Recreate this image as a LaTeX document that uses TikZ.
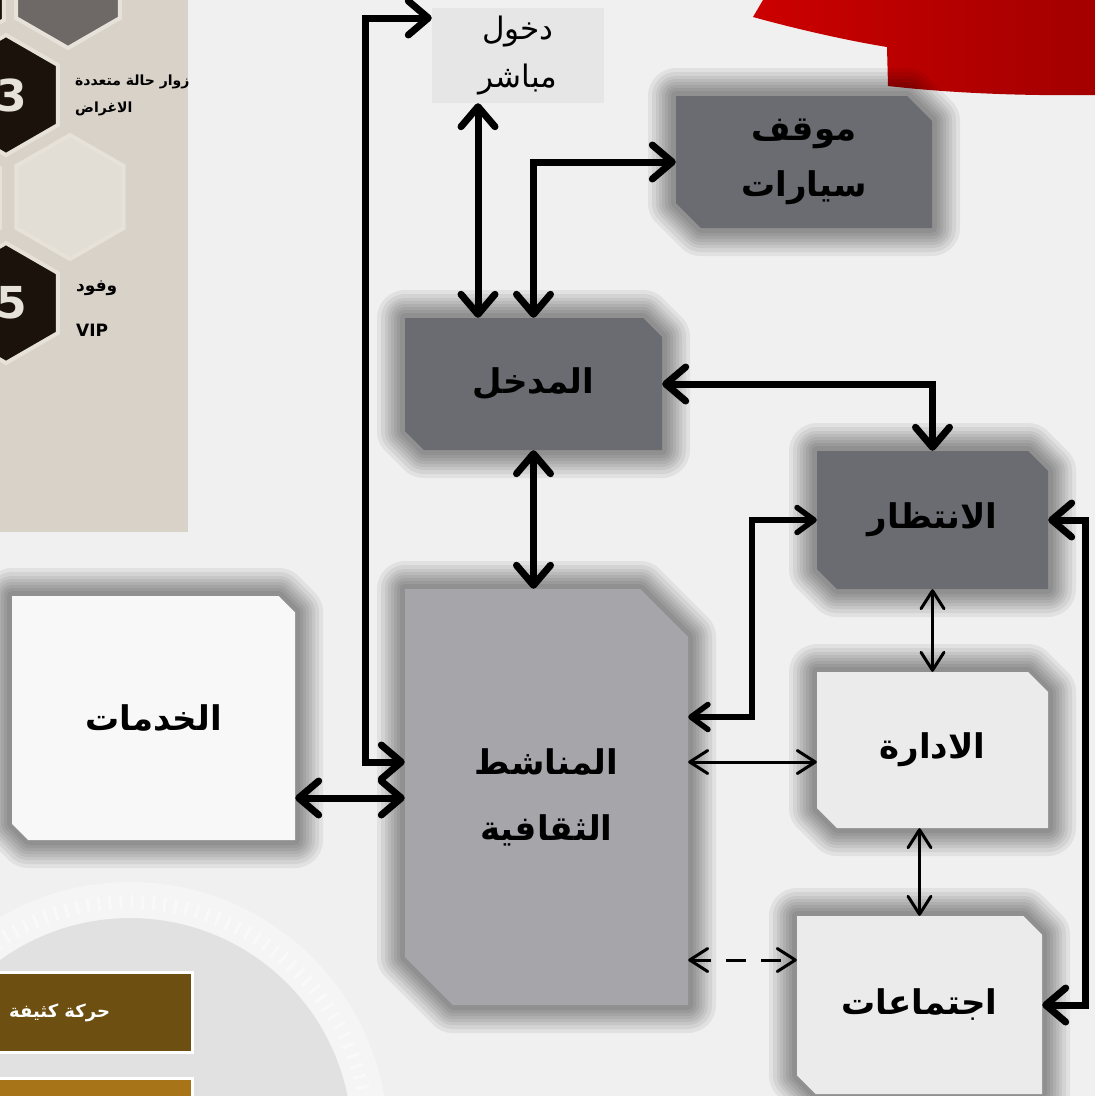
\documentclass[tikz,border=0pt]{standalone}
\usepackage{fontspec}
\usetikzlibrary{shapes.misc,shapes.geometric,arrows.meta}
\newfontfamily\arabicfont[Script=Arabic]{DejaVu Sans}
\newfontfamily\latinfont{DejaVu Sans}
\TeXXeTstate=1
\definecolor{paper}{HTML}{F0F0F0}
\definecolor{panelbeige}{HTML}{D8D2C8}
\definecolor{hexdark}{HTML}{1B130B}
\definecolor{hexgray}{HTML}{6E6866}
\definecolor{hexlight}{HTML}{E2DDD5}
\definecolor{hexrim}{HTML}{E6E1D9}
\definecolor{boxdark}{HTML}{6B6C71}
\definecolor{boxmid}{HTML}{A6A5AA}
\definecolor{boxlight}{HTML}{EBEBEB}
\definecolor{boxwhite}{HTML}{F8F8F8}
\definecolor{directbox}{HTML}{E6E6E6}
\definecolor{bannerred}{HTML}{CC0000}
\definecolor{bannerdark}{HTML}{A30000}
\definecolor{brownA}{HTML}{6E4F12}
\definecolor{brownB}{HTML}{A87418}
\newcommand{\rtl}[1]{\beginR #1\endR}
\tikzset{
  halo/.style={preaction={draw=black, draw opacity=0.06, line width=#1, line join=round}},
  room/.style={chamfered rectangle, chamfered rectangle corners={north east,south west},
    chamfered rectangle angle=45, chamfered rectangle xsep=22pt, inner sep=0pt,
    align=center, font=\arabicfont\bfseries\fontsize{34}{56}\selectfont,
    halo=56pt, halo=48pt, halo=40pt, halo=34pt, halo=28pt, halo=22pt, halo=16pt, halo=10pt},
  hexcell/.style={regular polygon, regular polygon sides=6, shape border rotate=30,
    inner sep=0pt, draw=hexrim, line width=4pt},
  bigarrow/.style={line width=7pt,
    {Straight Barb[length=20pt,width=34pt,round]}-{Straight Barb[length=20pt,width=34pt,round]}},
  midarrow/.style={line width=5.5pt,
    {Straight Barb[length=17pt,width=25pt,round]}-{Straight Barb[length=17pt,width=25pt,round]}},
  thinarrow/.style={line width=3pt,
    {Straight Barb[length=18pt,width=23pt,round]}-{Straight Barb[length=18pt,width=23pt,round]}},
}
\begin{document}
\begin{tikzpicture}[x=1pt, y=-1pt]
\useasboundingbox (0,0) rectangle (1095,1096);
\fill[paper] (0,0) rectangle (1095,1096);
% watermark
\fill[black, opacity=0.06] (130,1140) circle (222);
\draw[white, opacity=0.35, line width=36pt] (130,1140) circle (240);
\draw[white, opacity=0.4, line width=14pt, dash pattern=on 3pt off 8pt] (130,1140) circle (238);
% side panel
\fill[panelbeige] (0,0) rectangle (188,532);
\node[hexcell, fill=hexgray, minimum size=120pt] (hextop) at (68,-12) {};
\node[hexcell, fill=hexdark, minimum size=120pt] (hexleft) at (-48,-10) {};
\node[hexcell, fill=hexdark, minimum size=120pt] (hexfour) at (-52,198) {};
\node[hexcell, fill=hexlight, minimum size=124pt] (hexblank) at (70,197) {};
\node[hexcell, fill=hexdark, minimum size=120pt] (hexthree) at (6,95) {};
\node[hexcell, fill=hexdark, minimum size=120pt] (hexfive) at (6,303) {};
\node[text=hexrim, inner sep=0pt, font=\latinfont\bfseries\fontsize{44}{44}\selectfont]
  (three) at (12,95) {3};
\node[text=hexrim, inner sep=0pt, font=\latinfont\bfseries\fontsize{44}{44}\selectfont]
  (five) at (12,303) {5};
\node[align=left, anchor=west, inner sep=0pt, font=\arabicfont\bfseries\fontsize{14}{27}\selectfont]
  (visitors) at (75,95) {\rtl{زوار حالة متعددة}\\\rtl{الاغراض}};
\node[anchor=west, inner sep=0pt, font=\arabicfont\bfseries\fontsize{17}{17}\selectfont]
  (delegates) at (76,288) {\rtl{وفود}};
\node[anchor=west, inner sep=0pt, font=\latinfont\bfseries\fontsize{17}{17}\selectfont]
  (vip) at (76,330) {VIP};
% legend bars
\filldraw[fill=brownA, draw=white, line width=3pt] (-5,972) rectangle (192,1052);
\node[text=white, anchor=west, inner sep=0pt, font=\arabicfont\bfseries\fontsize{18}{18}\selectfont]
  (heavy) at (9,1013) {\rtl{حركة كثيفة}};
\filldraw[fill=brownB, draw=white, line width=3pt] (-5,1078) rectangle (192,1104);
% red banner
\shade[left color=bannerred, right color=bannerdark] (763,0) -- (753,17)
  .. controls (800,30) and (850,41) .. (887,47) -- (888,86)
  .. controls (950,93) and (1020,96) .. (1095,95) -- (1095,0) -- cycle;
% rooms
\node[fill=directbox, minimum width=172pt, minimum height=95pt, align=center, inner sep=0pt,
  font=\arabicfont\fontsize{31}{48}\selectfont] (direct) at (518,55.5)
  {\rtl{دخول}\\\rtl{مباشر}};
\node[room, fill=boxdark, minimum width=256pt, minimum height=132pt] (parking) at (804,162)
  {\rtl{موقف}\\\rtl{سيارات}};
\node[room, fill=boxdark, minimum width=257pt, minimum height=132pt] (entry) at (533.5,384)
  {\rtl{المدخل}};
\node[room, fill=boxdark, minimum width=231pt, minimum height=138pt] (waiting) at (932.5,520)
  {\rtl{الانتظار}};
\node[room, fill=boxlight, minimum width=231pt, minimum height=156pt] (admin) at (932.5,750)
  {\rtl{الادارة}};
\node[room, fill=boxlight, minimum width=245pt, minimum height=178pt,
  chamfered rectangle xsep=29pt] (meetings) at (919.5,1005) {\rtl{اجتماعات}};
\node[room, fill=boxmid, minimum width=283pt, minimum height=416pt,
  chamfered rectangle xsep=45pt, font=\arabicfont\bfseries\fontsize{34}{66}\selectfont]
  (cultural) at (546.5,797) {\rtl{المناشط}\\\rtl{الثقافية}};
\node[room, fill=boxwhite, minimum width=283pt, minimum height=244pt,
  chamfered rectangle xsep=40pt] (services) at (153.5,718) {\rtl{الخدمات}};
% connectors
\draw[bigarrow] ([yshift=37.5pt]direct.west) -| (365,762) -- ([yshift=35pt]cultural.west);
\draw[bigarrow] ([xshift=-40pt]direct.south) -- ([xshift=-40pt]direct.south |- entry.north);
\draw[bigarrow] (entry.north) |- (parking.west);
\draw[bigarrow] (entry.east) -| (waiting.north);
\draw[bigarrow] (entry.south) -- (entry.south |- cultural.north);
\draw[bigarrow] ([yshift=-80pt]services.east) -- ([yshift=-80pt]services.east -| cultural.west);
\draw[midarrow] ([yshift=80pt]cultural.east) -- ++(64,0) |- (waiting.west);
\draw[thinarrow] ([yshift=35pt]cultural.east) -- ([yshift=35pt]cultural.east -| admin.west);
\draw[thinarrow] (waiting.south) -- (admin.north);
\draw[thinarrow] (meetings.north |- admin.south) -- (meetings.north);
\draw[thinarrow, dash pattern=on 20pt off 15pt] ([yshift=-163pt]cultural.east)
  -- ([yshift=-163pt]cultural.east -| meetings.west);
\draw[bigarrow] (waiting.east) -- ++(37,0) |- (meetings.east);
\end{tikzpicture}
\end{document}
